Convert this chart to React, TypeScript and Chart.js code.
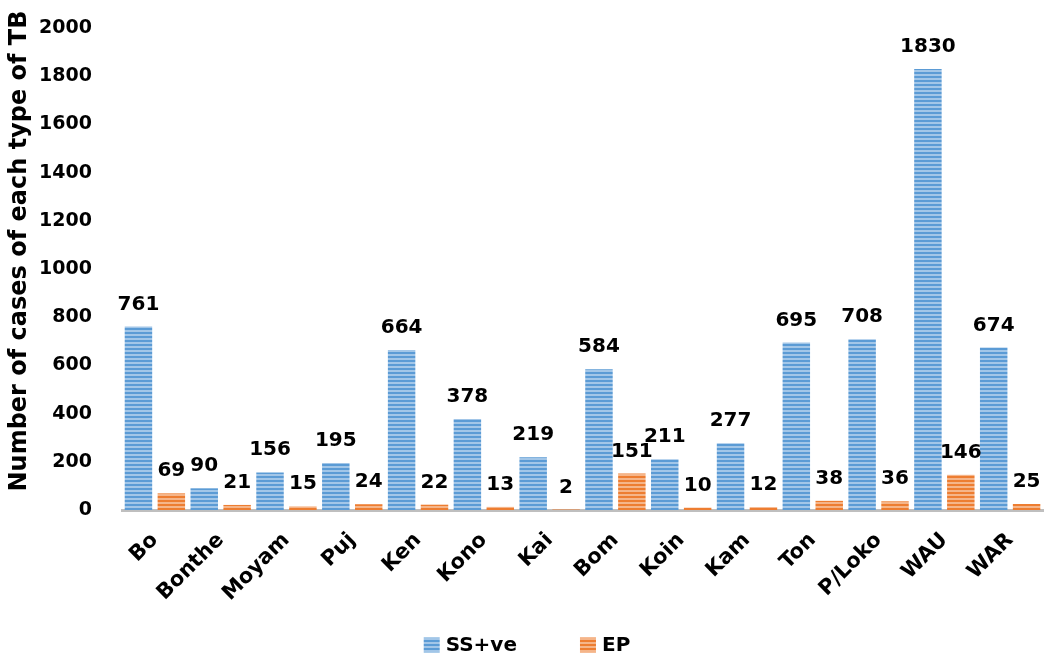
import React, { useEffect, useRef } from 'react';
import { Chart, registerables } from 'chart.js';

Chart.register(...registerables);

const categories = ['Bo', 'Bonthe', 'Moyam', 'Puj', 'Ken', 'Kono', 'Kai', 'Bom', 'Koin', 'Kam', 'Ton', 'P/Loko', 'WAU', 'WAR'];
const ssPositive = [761, 90, 156, 195, 664, 378, 219, 584, 211, 277, 695, 708, 1830, 674];
const extraPulmonary = [69, 21, 15, 24, 22, 13, 2, 151, 10, 12, 38, 36, 146, 25];
const seriesNames = ['SS+ve', 'EP'];
const yMin = 0;
const yMax = 2000;
const yStep = 200;
const yTitle = 'Number of cases of each type of TB';

const W = 1046;
const H = 657;
const FONT = "'DejaVu Sans', sans-serif";

function stripe(dark: string, light: string): CanvasPattern | string {
  const c = document.createElement('canvas');
  c.width = 4;
  c.height = 4;
  const g = c.getContext('2d');
  if (!g) return dark;
  g.fillStyle = dark;
  g.fillRect(0, 0, 4, 4);
  g.fillStyle = light;
  g.fillRect(0, 2, 4, 2);
  const p = g.createPattern(c, 'repeat');
  return p || dark;
}

export default function App() {
  const ref = useRef<HTMLCanvasElement>(null);
  useEffect(() => {
    const canvas = ref.current;
    if (!canvas) return;
    const ctx = canvas.getContext('2d');
    if (!ctx) return;
    Chart.defaults.font.family = FONT;
    const blue = stripe('#5B9BD5', '#A2C6E8');
    const orange = stripe('#ED7D31', '#F5B589');

    const extras = {
      id: 'extras',
      afterDatasetsDraw(chart: any) {
        const c = chart.ctx;
        c.save();
        c.font = `bold 20px ${FONT}`;
        c.fillStyle = '#000';
        c.textAlign = 'center';
        c.textBaseline = 'alphabetic';
        chart.data.datasets.forEach((ds: any, i: number) => {
          const meta = chart.getDatasetMeta(i);
          meta.data.forEach((el: any, j: number) => {
            c.fillText(String(ds.data[j]), el.x, el.y - 17);
          });
        });
        c.restore();
      },
      afterDraw(chart: any) {
        const c = chart.ctx;
        c.save();
        // y-axis title
        c.font = `bold 24px ${FONT}`;
        c.fillStyle = '#000';
        c.textAlign = 'center';
        c.textBaseline = 'middle';
        c.translate(20, 251);
        c.rotate(-Math.PI / 2);
        c.fillText(yTitle, 0, 0);
        c.restore();

        // legend
        c.save();
        c.font = `bold 20px ${FONT}`;
        c.textBaseline = 'middle';
        c.textAlign = 'left';
        const box = 16;
        const gapText = 6;
        const gapItem = 63;
        const widths = chart.data.datasets.map((ds: any) => box + gapText + c.measureText(ds.label).width);
        const total = widths.reduce((a: number, b: number) => a + b, 0) + gapItem * (widths.length - 1);
        let x = 527 - total / 2;
        const cy = 645;
        chart.data.datasets.forEach((ds: any, i: number) => {
          c.fillStyle = ds.backgroundColor;
          c.fillRect(x, cy - 7.5, box, 15);
          c.fillStyle = '#000';
          c.fillText(ds.label, x + box + gapText, cy + 1);
          x += widths[i] + gapItem;
        });
        c.restore();
      },
    };

    const chart = new Chart(ctx, {
      type: 'bar',
      data: {
        labels: categories,
        datasets: [
          { label: seriesNames[0], data: ssPositive, backgroundColor: blue as any, borderWidth: 0, barPercentage: 0.835, categoryPercentage: 1 },
          { label: seriesNames[1], data: extraPulmonary, backgroundColor: orange as any, borderWidth: 0, barPercentage: 0.835, categoryPercentage: 1 },
        ],
      },
      options: {
        responsive: false,
        animation: false,
        layout: { padding: { top: 28, right: 1, left: 0, bottom: 25 } },
        plugins: {
          legend: { display: false },
          tooltip: { enabled: false },
        },
        scales: {
          x: {
            grid: { display: false, drawTicks: false },
            border: { display: true, color: '#BFBFBF', width: 3 },
            ticks: { autoSkip: false, maxRotation: 45, minRotation: 45, padding: 18, color: '#000', font: { size: 21, weight: 'bold' } },
            afterFit: (s: any) => {
              s.height = H - 25 - 510;
            },
          },
          y: {
            min: yMin,
            max: yMax,
            ticks: { stepSize: yStep, padding: 0, color: '#000', font: { size: 19, weight: 'bold' }, callback: (v: any) => String(v) },
            grid: { display: false, drawTicks: true, tickLength: 30 },
            border: { display: false },
            afterFit: (s: any) => {
              s.width = 122;
            },
          },
        },
      },
      plugins: [extras],
    });
    return () => chart.destroy();
  }, []);
  return (
    <div style={{ position: 'fixed', left: 0, top: 0, width: W, height: H, overflow: 'hidden', background: '#fff' }}>
      <canvas ref={ref} width={W} height={H} style={{ display: 'block' }} />
    </div>
  );
}
